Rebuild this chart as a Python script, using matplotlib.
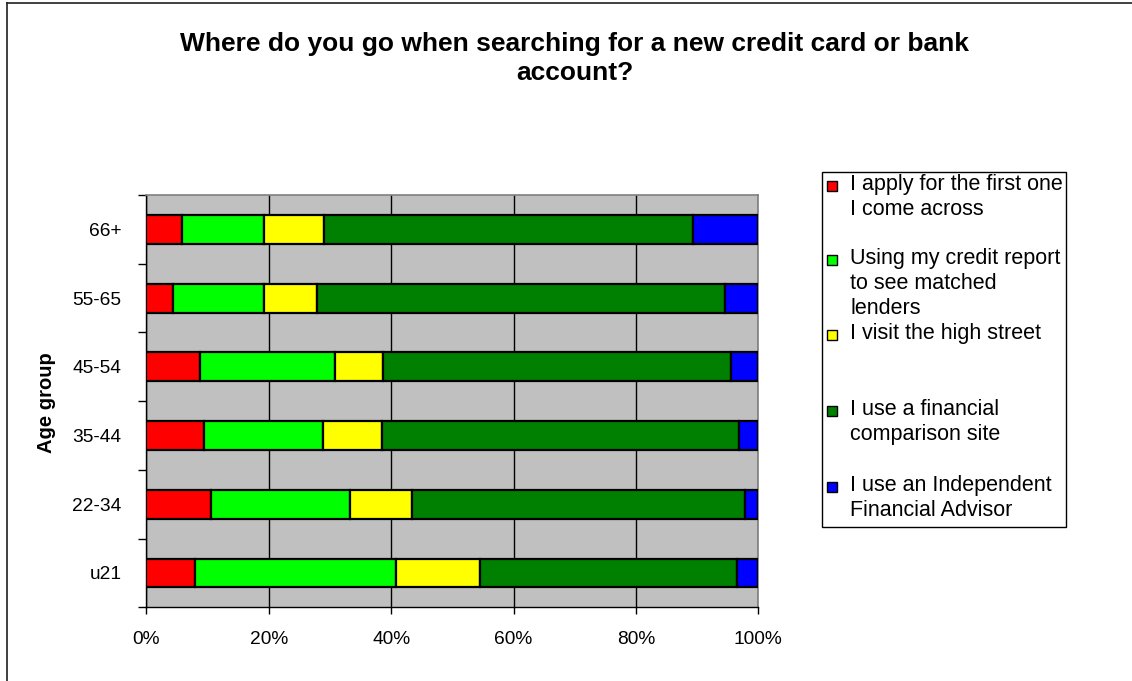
import matplotlib
matplotlib.use("Agg")
import matplotlib.pyplot as plt
from matplotlib.patches import Rectangle
from matplotlib.lines import Line2D
import numpy as np

plt.rcParams['font.family'] = ['Liberation Sans', 'DejaVu Sans']

categories = ["u21", "22-34", "35-44", "45-54", "55-65", "66+"]
series_names = [
    "I apply for the first one\nI come across",
    "Using my credit report\nto see matched\nlenders",
    "I visit the high street",
    "I use a financial\ncomparison site",
    "I use an Independent\nFinancial Advisor",
]
first_one = [7.9, 10.5, 9.4, 8.8, 4.3, 5.9]
credit_report = [32.9, 22.8, 19.4, 22.0, 14.9, 13.3]
high_street = [13.8, 10.1, 9.7, 7.8, 8.7, 9.9]
comparison_site = [41.9, 54.4, 58.3, 56.9, 66.7, 60.3]
ifa = [3.5, 2.2, 3.2, 4.5, 5.4, 10.6]
colors = ["#FF0000", "#00FF00", "#FFFF00", "#008000", "#0000FF"]
x_ticks = [0, 20, 40, 60, 80, 100]
x_ticklabels = ["0%", "20%", "40%", "60%", "80%", "100%"]
title = "Where do you go when searching for a new credit card or bank\naccount?"

W, H = 1132, 681
fig = plt.figure(figsize=(W / 100, H / 100), dpi=100)
ax = fig.add_axes([146.3 / W, 1 - 607.3 / H, 612 / W, (607.3 - 195) / H])

series = [first_one, credit_report, high_street, comparison_site, ifa]
data = np.array(series, dtype=float)
totals = data.sum(axis=0)
pct = data / totals * 100
y = np.arange(len(categories))
left = np.zeros(len(categories))
for vals, c in zip(pct, colors):
    ax.barh(y, vals, left=left, height=0.42, color=c, edgecolor="black",
            linewidth=1.6, zorder=3)
    left += vals

ax.set_facecolor("#C0C0C0")
ax.set_xlim(0, 100)
ax.set_ylim(-0.5, len(categories) - 0.5)
ax.set_xticks(x_ticks)
ax.set_xticklabels(x_ticklabels, fontsize=13.8)
ax.xaxis.grid(True, color="black", linewidth=1.0, zorder=1)
ax.set_axisbelow(True)
ax.tick_params(axis="x", direction="out", length=5, width=1, pad=12)

ax.set_yticks(y)
ax.set_yticklabels(categories, fontsize=13.8)
ax.tick_params(axis="y", which="major", length=0, pad=18)
ax.set_yticks(np.arange(-0.5, len(categories), 1.0), minor=True)
ax.tick_params(axis="y", which="minor", direction="out", length=6, width=1)

for s in ["top", "right"]:
    ax.spines[s].set_color("#808080")
    ax.spines[s].set_linewidth(1.2)
for s in ["left", "bottom"]:
    ax.spines[s].set_color("black")
    ax.spines[s].set_linewidth(1.0)

fig.text(47 / W, 1 - 403 / H, "Age group", rotation=90, ha="center", va="center",
         fontsize=14.5, fontweight="bold")

fig.text(575 / W, 1 - 58.5 / H, title, ha="center", va="center", fontsize=19,
         fontweight="bold", linespacing=1.25)

# Figure border (top and left)
fig.add_artist(Line2D([7 / W, 7 / W], [0, 1 - 3 / H], color="#202020", lw=1.2,
                      transform=fig.transFigure))
fig.add_artist(Line2D([7 / W, 1], [1 - 3 / H, 1 - 3 / H], color="#202020", lw=1.2,
                      transform=fig.transFigure))

# Legend (drawn manually to match spacing)
lx0, ly0, lx1, ly1 = 822, 172, 1066, 527
fig.add_artist(Rectangle((lx0 / W, 1 - ly1 / H), (lx1 - lx0) / W, (ly1 - ly0) / H,
                         transform=fig.transFigure, facecolor="white",
                         edgecolor="black", lw=1.0))
entry_y = [186, 260, 335, 411, 487]
for name, c, ey in zip(series_names, colors, entry_y):
    fig.add_artist(Rectangle((827 / W, 1 - (ey + 5) / H), 10 / W, 10 / H,
                             transform=fig.transFigure, facecolor=c,
                             edgecolor="black", lw=1.0))
    fig.text(850 / W, 1 - (ey - 12) / H, name, ha="left", va="top",
             fontsize=15.5, linespacing=1.25)

fig.savefig("out.png", dpi=100)
